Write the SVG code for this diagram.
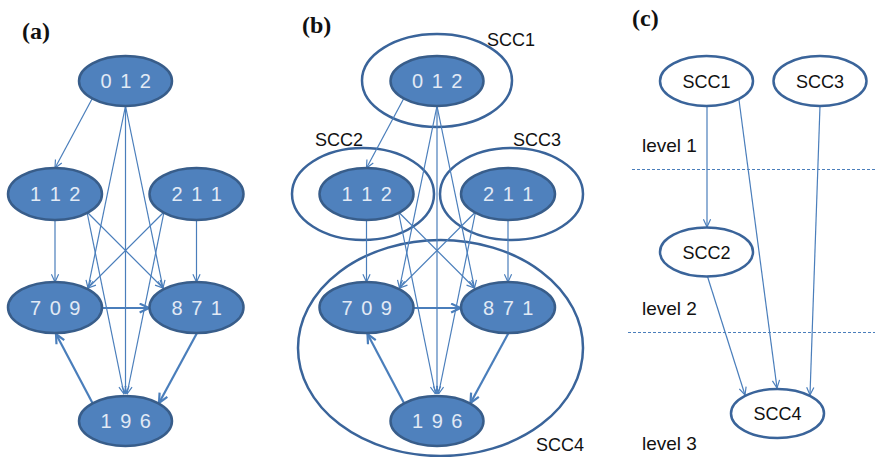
<svg xmlns="http://www.w3.org/2000/svg" width="875" height="457" viewBox="0 0 875 457">
<defs>
<style>
.n{fill:#4f81bd;stroke:#385d8a;stroke-width:2.5}
.o{fill:none;stroke:#3a649a;stroke-width:2.5}
.w{fill:#fff;stroke:#3a649a;stroke-width:2.5}
.t{font-family:"Liberation Sans",Arial,sans-serif;font-size:20px;fill:#e2eaf5;text-anchor:middle;letter-spacing:1.5px}
.s{font-family:"Liberation Sans",Arial,sans-serif;font-size:18px;fill:#111}
.l{font-family:"Liberation Sans",Arial,sans-serif;font-size:19px;fill:#111}
.sc{font-family:"Liberation Sans",Arial,sans-serif;font-size:18px;fill:#111;text-anchor:middle}
.p{font-family:"Liberation Serif","Times New Roman",serif;font-size:24px;font-weight:bold;fill:#111}
.e{fill:none;stroke:#4a7ebb;stroke-width:1.2;marker-end:url(#ah)}
.E{fill:none;stroke:#4a7ebb;stroke-width:2.2;marker-end:url(#AH)}
.d{stroke:#4a7ebb;stroke-width:1;stroke-dasharray:3 2}
</style>
<marker id="ah" viewBox="0 0 10 10" refX="9.5" refY="5" markerWidth="9" markerHeight="9" markerUnits="userSpaceOnUse" orient="auto">
<path d="M1,1 L9.5,5 L1,9" fill="none" stroke="#4a7ebb" stroke-width="1.3"/>
</marker>
<marker id="AH" viewBox="0 0 10 10" refX="9.5" refY="5" markerWidth="11" markerHeight="11" markerUnits="userSpaceOnUse" orient="auto">
<path d="M1,1 L9.5,5 L1,9" fill="none" stroke="#4a7ebb" stroke-width="2"/>
</marker>
</defs>
<rect width="875" height="457" fill="#fff"/>

<text class="p" x="22" y="39">(a)</text>
<text class="p" x="302" y="33">(b)</text>
<text class="p" x="632" y="26">(c)</text>

<!-- panel b SCC groupings -->
<g id="scc1-b"><ellipse class="o" cx="437" cy="80.5" rx="75" ry="46.5"/><text class="s" x="487" y="46">SCC1</text></g>
<g id="scc2-b"><ellipse class="o" cx="363" cy="194" rx="71" ry="46"/><text class="s" x="315" y="146">SCC2</text></g>
<g id="scc3-b"><ellipse class="o" cx="511.5" cy="194" rx="71.5" ry="46"/><text class="s" x="513" y="146">SCC3</text></g>
<g id="scc4-b"><ellipse class="o" cx="440.5" cy="348" rx="142.5" ry="108"/><text class="s" x="536" y="451">SCC4</text></g>

<g id="connectors">
<!-- panel a -->
<path class="e" d="M92,99 L55,168"/>
<path class="e" d="M125.5,106 L88,288"/>
<path class="e" d="M125.5,106 L163,288"/>
<path class="e" d="M125.5,106 L125.5,394"/>
<path class="e" d="M55,220 L55,282"/>
<path class="e" d="M87,212 L163,288"/>
<path class="e" d="M87,212 L124,394"/>
<path class="e" d="M196.5,220 L196.5,282"/>
<path class="e" d="M164,212 L88,288"/>
<path class="e" d="M164,212 L127,394"/>
<path class="E" d="M102,308 L149,308"/>
<path class="E" d="M197,333 L159,403"/>
<path class="E" d="M93,404 L56,334"/>
<!-- panel b -->
<path class="e" d="M403.5,99 L366.5,168"/>
<path class="e" d="M437,106 L399.5,288"/>
<path class="e" d="M437,106 L474.5,288"/>
<path class="e" d="M437,106 L437,394"/>
<path class="e" d="M366.5,220 L366.5,282"/>
<path class="e" d="M398.5,212 L474.5,288"/>
<path class="e" d="M398.5,212 L435.5,394"/>
<path class="e" d="M508,220 L508,282"/>
<path class="e" d="M475.5,212 L399.5,288"/>
<path class="e" d="M475.5,212 L438.5,394"/>
<path class="E" d="M413.5,308 L460.5,308"/>
<path class="E" d="M508.5,333 L470.5,403"/>
<path class="E" d="M404.5,404 L367.5,334"/>
<!-- panel c -->
<path class="e" d="M707,106 L707,227"/>
<path class="e" d="M739,100 L777,388"/>
<path class="e" d="M820,106 L810,395"/>
<path class="e" d="M707,275 L745,395"/>
<line class="d" x1="632" y1="169.5" x2="875" y2="169.5"/>
<line class="d" x1="628" y1="332.5" x2="875" y2="332.5"/>
</g>

<!-- panel a nodes -->
<g id="a012"><ellipse class="n" cx="125.5" cy="81" rx="46.5" ry="25"/><text class="t" x="126.5" y="88">0 1 2</text></g>
<g id="a112"><ellipse class="n" cx="55" cy="194" rx="47" ry="26"/><text class="t" x="56" y="201">1 1 2</text></g>
<g id="a211"><ellipse class="n" cx="196.5" cy="194" rx="47" ry="26"/><text class="t" x="197.5" y="201">2 1 1</text></g>
<g id="a709"><ellipse class="n" cx="55" cy="307.5" rx="47" ry="25.5"/><text class="t" x="56" y="315">7 0 9</text></g>
<g id="a871"><ellipse class="n" cx="196.5" cy="307.5" rx="47" ry="25.5"/><text class="t" x="197.5" y="315">8 7 1</text></g>
<g id="a196"><ellipse class="n" cx="125.5" cy="421" rx="46.5" ry="25"/><text class="t" x="126.5" y="428">1 9 6</text></g>

<!-- panel b nodes -->
<g id="b012"><ellipse class="n" cx="437" cy="81" rx="46.5" ry="25"/><text class="t" x="438" y="88">0 1 2</text></g>
<g id="b112"><ellipse class="n" cx="366.5" cy="194" rx="47" ry="26"/><text class="t" x="367.5" y="201">1 1 2</text></g>
<g id="b211"><ellipse class="n" cx="508" cy="194" rx="47" ry="26"/><text class="t" x="509" y="201">2 1 1</text></g>
<g id="b709"><ellipse class="n" cx="366.5" cy="307.5" rx="47" ry="25.5"/><text class="t" x="367.5" y="315">7 0 9</text></g>
<g id="b871"><ellipse class="n" cx="508" cy="307.5" rx="47" ry="25.5"/><text class="t" x="509" y="315">8 7 1</text></g>
<g id="b196"><ellipse class="n" cx="437" cy="421" rx="46.5" ry="25"/><text class="t" x="438" y="428">1 9 6</text></g>

<!-- panel c nodes -->
<g id="cSCC1"><ellipse class="w" cx="706.5" cy="81" rx="46.5" ry="25"/><text class="sc" x="706.5" y="88">SCC1</text></g>
<g id="cSCC3"><ellipse class="w" cx="820" cy="81" rx="46.5" ry="25"/><text class="sc" x="820" y="88">SCC3</text></g>
<g id="cSCC2"><ellipse class="w" cx="706.5" cy="252" rx="46.5" ry="24.5"/><text class="sc" x="706.5" y="259">SCC2</text></g>
<g id="cSCC4"><ellipse class="w" cx="777.5" cy="413.5" rx="46.5" ry="24.5"/><text class="sc" x="777.5" y="420">SCC4</text></g>

<text class="l" x="642" y="152">level 1</text>
<text class="l" x="642" y="315">level 2</text>
<text class="l" x="642" y="450">level 3</text>
</svg>
